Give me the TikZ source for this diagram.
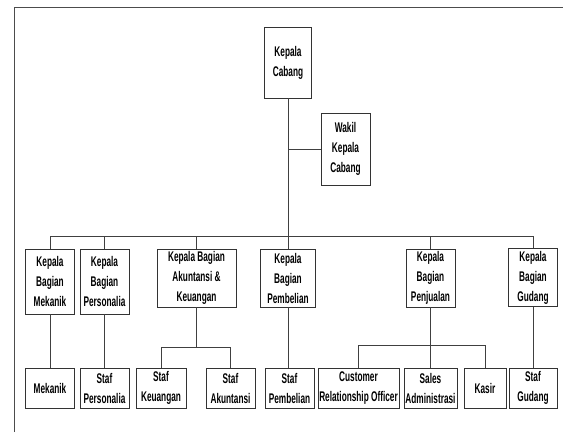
\documentclass[tikz,border=0pt]{standalone}
\usepackage{fontspec}
\newfontfamily\orgfont[FakeStretch=0.59]{Liberation Sans}

\begin{document}
\begin{tikzpicture}[x=1pt,y=-1pt,
    every node/.style={font=\orgfont\bfseries\fontsize{14}{20}\selectfont,align=center,inner sep=0pt},
    unit/.style={draw=black!80,line width=0.9pt,minimum width=#1},
    head/.style={unit=#1,minimum height=58},
    staff/.style={unit=#1,minimum height=40},
    link/.style={draw=black!75,line width=0.8pt},
    ]
  \useasboundingbox (0,0) rectangle (563,432);
  \draw[black!70,line width=0.8pt] (14,432) -- (14,7) -- (563,7);

  % pimpinan
  \node[unit=47,minimum height=71](kc) at (288,62.5){Kepala\\Cabang};
  \node[unit=49,minimum height=72](wakil) at (345.5,149){Wakil\\Kepala\\Cabang};

  % kepala bagian
  \node[unit=49,minimum height=65](kbm) at (50,281.5){Kepala\\Bagian\\Mekanik};
  \node[unit=49,minimum height=65](kbp) at (104.5,281.5){Kepala\\Bagian\\Personalia};
  \node[head=79](kba) at (196.5,278){Kepala Bagian\\Akuntansi \&\\Keuangan};
  \node[head=55](kbb) at (288,278){Kepala\\Bagian\\Pembelian};
  \node[head=49](kbj) at (430.5,278){Kepala\\Bagian\\Penjualan};
  \node[head=49](kbg) at (533,277.5){Kepala\\Bagian\\Gudang};

  % staf
  \node[staff=49](mek) at (50,388){Mekanik};
  \node[staff=49](sper) at (104.5,388){Staf\\Personalia};
  \node[staff=50](skeu) at (161,388){Staf\\Keuangan};
  \node[staff=49](saku) at (230.5,388){Staf\\Akuntansi};
  \node[staff=49](spem) at (289.5,388){Staf\\Pembelian};
  \node[staff=81](cro) at (358.5,388){Customer\\Relationship Officer};
  \node[staff=53](sadm) at (430.5,388){Sales\\Administrasi};
  \node[staff=42](kasir) at (485,388){Kasir};
  \node[staff=48](sgud) at (533,388){Staf\\Gudang};

  \coordinate (bus) at (0,236);
  \coordinate (subA) at (0,347);
  \coordinate (subJ) at (0,345);

  \draw[link] (kc.south) -- (kc.south |- bus);
  \draw[link] (wakil.west) -- (wakil.west -| kc.south);
  \draw[link] (kbm.north) |- (bus -| kbg.north) -- (kbg.north);
  \foreach \n in {kbp,kba,kbb,kbj}
    \draw[link] (\n.north) -- (\n.north |- bus);

  \draw[link] (kbm) -- (mek);
  \draw[link] (kbp) -- (sper);
  \draw[link] (kbb.south) -- (kbb.south |- spem.north);
  \draw[link] (kbg) -- (sgud);
  \draw[link] (kbj) -- (sadm);
  \draw[link] (kba.south) -- (kba.south |- subA);
  \draw[link] (skeu.north) |- (saku.north |- subA) -- (saku.north);
  \draw[link] (cro.north) |- (kasir.north |- subJ) -- (kasir.north);
\end{tikzpicture}
\end{document}
